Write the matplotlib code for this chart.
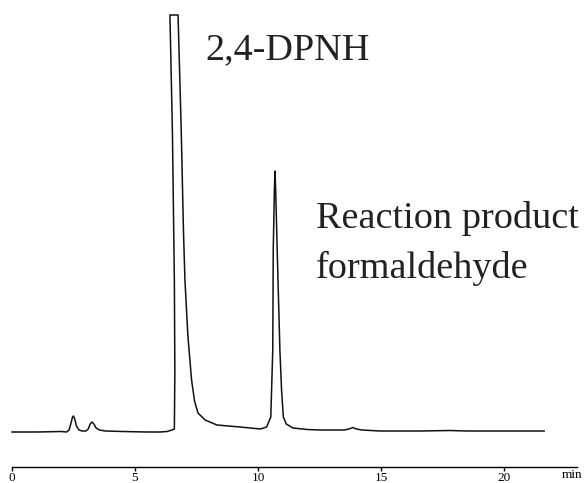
import matplotlib
matplotlib.use("Agg")
import matplotlib.pyplot as plt

# chromatogram trace (retention time in min, detector signal, arbitrary units)
rt_min = [0.00, 1.00, 2.00, 2.22, 2.32, 2.40, 2.46, 2.50, 2.55, 2.62, 2.72, 2.85,
          3.00, 3.10, 3.18, 3.25, 3.33, 3.42, 3.55, 3.80, 4.50, 5.50, 6.02, 6.30,
          6.50, 6.60, 6.62, 6.60, 6.52, 6.42, 6.75, 6.88, 6.97, 7.03, 7.15, 7.30,
          7.42, 7.56, 7.85, 8.33, 9.27, 10.10, 10.35, 10.52, 10.60, 10.62, 10.665,
          10.69, 10.72, 10.78, 10.89, 10.96, 11.03, 11.15, 11.42, 12.00, 12.52,
          13.50, 13.70, 13.86, 14.00, 14.23, 14.96, 16.60, 17.80, 18.50, 19.84, 21.63]
signal = [-1, -1, -0.5, -1, 1, 8, 14, 15, 12, 5, 1, 0,
          0, 2, 7, 9, 7, 3, 1, 0, -0.5, -1, -1, -0.5,
          1, 2, 60, 151, 300, 416, 416, 300, 200, 151, 95, 51,
          30, 18, 11, 6, 4, 2, 4, 14, 81, 181, 240,
          260, 240, 181, 81, 40, 14, 7, 3, 1.5, 1,
          1, 2, 3.5, 2, 1, 0, 0, 0.5, 0, 0, 0]

ticks = [0, 5, 10, 15, 20]
label_dpnh = "2,4-DPNH"
label_product = ["Reaction product", "formaldehyde"]

serif = ["Liberation Serif", "DejaVu Serif"]

fig = plt.figure(figsize=(5.84, 4.83), dpi=100)
ax = fig.add_axes([0, 16 / 483, 1, 467 / 483])

ax.plot(rt_min, signal, color="#111111", lw=1.1, solid_joinstyle="round")

ax.set_xlim(-12 / 24.6, 572 / 24.6)
ax.set_ylim(-36, 431)

for side in ["top", "left", "right"]:
    ax.spines[side].set_visible(False)
ax.spines["bottom"].set_bounds(0, 22.95)
ax.spines["bottom"].set_linewidth(1.0)
ax.set_yticks([])
ax.set_xticks(ticks)
ax.set_xticklabels([str(t) for t in ticks], family=serif, fontsize=9.5)
ax.tick_params(axis="x", direction="out", length=3, width=1, pad=0.5)

txt = dict(family=serif, fontsize=27.5, color="#222222", va="baseline", ha="left")
ax.text(7.85, 372, label_dpnh, **txt)
ax.text(12.35, 203, label_product[0], **txt)
ax.text(12.35, 153, label_product[1], **txt)

fig.text(572 / 584, 1 - 475 / 483, "min", family=serif, fontsize=9.5,
         ha="center", va="center")

fig.savefig("out.png", dpi=100)
